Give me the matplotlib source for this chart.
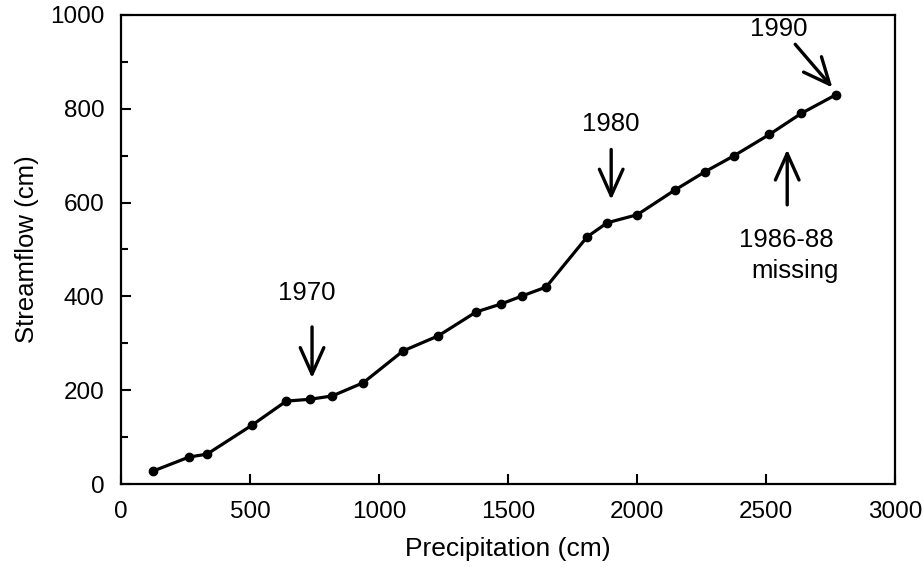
import matplotlib.pyplot as plt
from matplotlib.ticker import MultipleLocator

plt.rcParams["font.family"] = ["Liberation Sans", "DejaVu Sans"]

# cumulative precipitation vs cumulative streamflow, 1965-1990 (1986-88 missing)
precip = [124, 264, 333, 508, 640, 733, 818, 938, 1093, 1229, 1376, 1473,
          1554, 1647, 1806, 1884, 2000, 2147, 2264, 2376, 2512, 2636, 2771]
flow = [28, 58, 64, 126, 177, 181, 188, 216, 284, 316, 367, 384,
        401, 420, 527, 557, 574, 627, 666, 700, 745, 790, 830]

fig = plt.figure(figsize=(9.24, 5.67), dpi=100)
ax = fig.add_axes([0.131, 0.146, 0.838, 0.828])

ax.plot(precip, flow, color="black", lw=2.3, marker="o", ms=6, zorder=3)

ax.set_xlim(0, 3000)
ax.set_ylim(0, 1000)
ax.xaxis.set_major_locator(MultipleLocator(500))
ax.yaxis.set_major_locator(MultipleLocator(200))
ax.yaxis.set_minor_locator(MultipleLocator(100))
ax.tick_params(direction="in", length=7, width=1.5, labelsize=17.5)
ax.tick_params(axis="x", pad=12)
ax.tick_params(axis="y", pad=12)
ax.tick_params(which="minor", direction="in", length=5, width=1.5)
for s in ax.spines.values():
    s.set_linewidth(1.6)

ax.set_xlabel("Precipitation (cm)", fontsize=19, labelpad=10)
ax.set_ylabel("Streamflow (cm)", fontsize=18.5, labelpad=8)

arrow = dict(arrowstyle="->,head_length=1.9,head_width=0.85", color="black",
             lw=2.4, shrinkA=0, shrinkB=0)
txt = dict(fontsize=18.5, ha="center", va="baseline")

ax.text(721, 393, "1970", **txt)
ax.annotate("", xy=(740, 226), xytext=(740, 335), arrowprops=arrow)

ax.text(1899, 753, "1980", **txt)
ax.annotate("", xy=(1899, 606), xytext=(1899, 713), arrowprops=arrow)

ax.text(2547, 954, "1990", **txt)
ax.annotate("", xy=(2756, 845), xytext=(2612, 937), arrowprops=arrow)

ax.text(2578, 506, "1986-88", **txt)
ax.text(2612, 440, "missing", **txt)
ax.annotate("", xy=(2581, 713), xytext=(2581, 595), arrowprops=arrow)

fig.savefig("out.png", dpi=100)
